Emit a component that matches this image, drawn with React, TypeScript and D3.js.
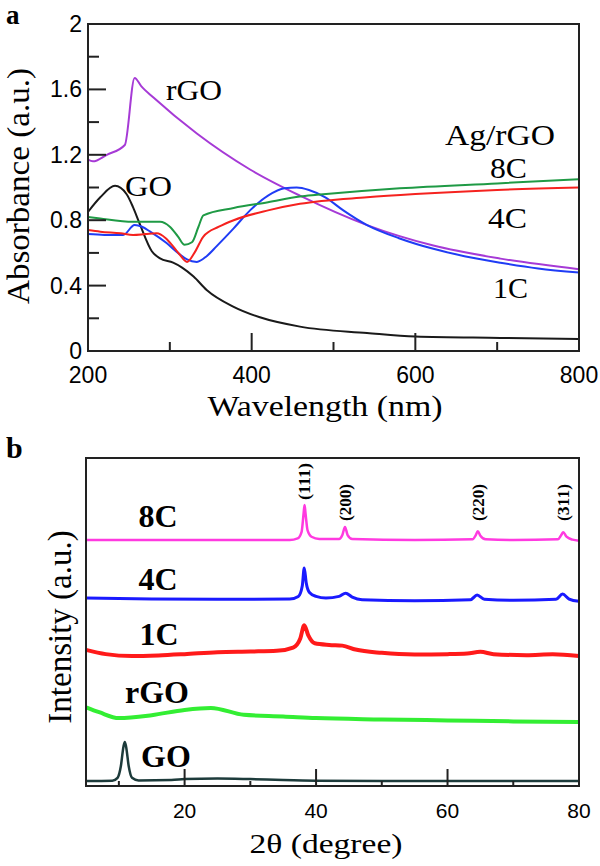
import React from 'react';
import * as d3 from 'd3';

// ---- panel a: UV-vis absorbance, [wavelength nm, absorbance a.u.]
const goUV: [number, number][] = [
  [200, 0.85], [215, 0.94], [233, 1.01], [247, 0.96], [255, 0.88], [263, 0.78],
  [278, 0.61], [288, 0.566], [304, 0.54], [315, 0.51], [329, 0.455], [345, 0.373],
  [378, 0.27], [410, 0.206], [459, 0.149], [541, 0.11], [600, 0.088], [704, 0.08], [800, 0.073],
];
const rgoUV: [number, number][] = [
  [200, 1.17], [206, 1.16], [223, 1.2], [245, 1.26], [257, 1.67], [265, 1.62],
  [280, 1.55], [333, 1.33], [398, 1.11], [459, 0.95], [541, 0.77], [622, 0.645],
  [704, 0.565], [800, 0.5],
];
const c1UV: [number, number][] = [
  [200, 0.715], [220, 0.71], [243, 0.71], [257, 0.77], [266, 0.76], [276, 0.73],
  [296, 0.66], [310, 0.6], [321, 0.56], [333, 0.545], [345, 0.58], [357, 0.64],
  [378, 0.75], [398, 0.86], [420, 0.95], [440, 0.995], [455, 1.0], [470, 0.985],
  [490, 0.94], [512, 0.86], [541, 0.77], [580, 0.69], [622, 0.625], [660, 0.58],
  [704, 0.54], [750, 0.505], [800, 0.48],
];
const c4UV: [number, number][] = [
  [200, 0.74], [215, 0.73], [240, 0.72], [255, 0.71], [270, 0.715], [284, 0.72],
  [295, 0.69], [304, 0.64], [312, 0.59], [321, 0.545], [330, 0.6], [341, 0.7],
  [360, 0.76], [378, 0.8], [420, 0.86], [459, 0.9], [541, 0.94], [600, 0.96],
  [700, 0.985], [800, 1.0],
];
const c8UV: [number, number][] = [
  [200, 0.82], [215, 0.81], [255, 0.79], [288, 0.79], [300, 0.76], [310, 0.7],
  [318, 0.65], [327, 0.665], [335, 0.76], [341, 0.83], [378, 0.875], [420, 0.91],
  [459, 0.945], [480, 0.955], [581, 0.995], [700, 1.025], [800, 1.05],
];

// ---- panel b: XRD, [2theta deg, intensity a.u. incl. stacking offset]
const goXRD: [number, number][] = [
  [5, 1.5], [9, 1.6], [9.8, 2.5], [10.3, 6], [10.7, 12], [10.9, 13.4], [11.1, 12],
  [11.5, 6], [12, 2.5], [13, 1.7], [18, 1.8], [20, 2.1], [25, 2.3], [30, 2.1],
  [35, 1.8], [40, 1.6], [50, 1.5], [60, 1.5], [80, 1.5],
];
const rgoXRD: [number, number][] = [
  [5, 24], [7, 22.5], [10, 20.7], [15, 21.6], [20, 23.2], [24, 23.8], [29, 21.7],
  [35, 21.2], [40, 20.7], [50, 20.3], [60, 20], [70, 19.7], [80, 19.5],
];
const c1XRD: [number, number][] = [
  [5, 41.5], [8, 40.2], [12, 39.6], [16, 39.8], [20, 40.2], [25, 40.8], [30, 41],
  [34, 41.2], [36.5, 42.2], [37.6, 45], [38.2, 49], [38.8, 46], [39.8, 43.5],
  [42, 43], [44, 42.8], [46, 41.6], [50, 40.6], [55, 40.1], [60, 40.2], [63, 40.4],
  [65, 40.9], [67, 40.2], [72, 39.9], [76, 40.2], [80, 39.6],
];
const c4XRD: [number, number][] = [
  [5, 57.3], [15, 57], [25, 56.9], [36, 57], [37.3, 57.8], [37.9, 61], [38.2, 66.5],
  [38.5, 62], [39, 59], [40, 57.8], [41.5, 57.3], [43.5, 57.8], [44.5, 58.8],
  [45.5, 57.6], [47, 56.8], [55, 56.5], [63.5, 56.8], [64.5, 58.2], [65.6, 56.9],
  [70, 56.6], [76.5, 56.9], [77.5, 58.5], [78.5, 57], [80, 56.3],
];
const c8XRD: [number, number][] = [
  [5, 75], [20, 75], [36, 75], [37.2, 75.5], [37.8, 77.5], [38.1, 83], [38.25, 85.7],
  [38.4, 83], [38.7, 78], [39.3, 76], [40.5, 75.3], [43.5, 75.3], [44.0, 76.5],
  [44.4, 79], [44.8, 76.5], [45.5, 75.3], [55, 75], [63.8, 75.2], [64.3, 76.5],
  [64.6, 77.7], [65, 76.3], [65.8, 75.2], [70, 75], [76.8, 75.2], [77.3, 76.5],
  [77.6, 77.4], [78.1, 76], [79, 75.1], [80, 74.8],
];
const peakNames = ['(111)', '(200)', '(220)', '(311)'];
const peakPos = [38.2, 44.4, 64.6, 77.6];

const serif = '"Liberation Serif", "Times New Roman", serif';
const sans = '"Liberation Sans", Arial, sans-serif';

export default function App() {
  // panel a scales
  const xa = d3.scaleLinear().domain([200, 800]).range([88, 579]);
  const ya = d3.scaleLinear().domain([0, 2]).range([351, 24]);
  const lineA = d3.line<[number, number]>().x(d => xa(d[0])).y(d => ya(d[1])).curve(d3.curveMonotoneX);

  // panel b scales
  const xb = d3.scaleLinear().domain([5, 80]).range([86, 579]);
  const yb = d3.scaleLinear().domain([0, 100]).range([786, 458]);
  const lineB = d3.line<[number, number]>().x(d => xb(d[0])).y(d => yb(d[1])).curve(d3.curveMonotoneX);

  const uvSeries = [
    { d: goUV, c: '#1a1a1a' },
    { d: rgoUV, c: '#a63ad6' },
    { d: c1UV, c: '#1f3cf5' },
    { d: c4UV, c: '#f5221f' },
    { d: c8UV, c: '#1f9a45' },
  ];
  const xrdSeries = [
    { d: goXRD, c: '#1d3b3b', w: 2.5 },
    { d: rgoXRD, c: '#33ee33', w: 4 },
    { d: c1XRD, c: '#ff1a1a', w: 4 },
    { d: c4XRD, c: '#1a1aff', w: 3 },
    { d: c8XRD, c: '#ff3ae0', w: 2.5 },
  ];

  const xaTicks = xa.ticks(6);
  const yaTicks = ya.ticks(10);
  const xbTicks = xb.ticks(8);

  return (
    <svg width={600} height={866} style={{ position: 'absolute', left: 0, top: 0, background: '#fff' }}>
      {/* ---------- panel a ---------- */}
      <text x={6} y={24} fontFamily={serif} fontWeight="bold" fontSize={27}>a</text>
      <g fill="none" strokeWidth={2}>
        {uvSeries.map((s, i) => <path key={i} d={lineA(s.d) || ''} stroke={s.c} />)}
      </g>
      <rect x={88} y={24} width={491} height={327} fill="none" stroke="#222" strokeWidth={2} />
      {xaTicks.map(t => {
        const major = t % 200 === 0;
        return <line key={t} x1={xa(t)} x2={xa(t)} y1={351} y2={351 - (major ? 18 : 9)} stroke="#222" strokeWidth={2} />;
      })}
      {yaTicks.map((t, i) => {
        const major = i % 2 === 0;
        return <line key={t} x1={88} x2={88 + (major ? 18 : 11)} y1={ya(t)} y2={ya(t)} stroke="#222" strokeWidth={2} />;
      })}
      {xaTicks.filter(t => t % 200 === 0).map(t => (
        <text key={t} x={xa(t)} y={383} textAnchor="middle" fontFamily={sans} fontSize={23}>{t}</text>
      ))}
      {yaTicks.filter((t, i) => i % 2 === 0).map(t => (
        <text key={t} x={82} y={ya(t) + 8} textAnchor="end" fontFamily={sans} fontSize={23}>{d3.format('~g')(t)}</text>
      ))}
      <text x={325} y={416} textAnchor="middle" fontFamily={serif} fontSize={30} textLength={235} lengthAdjust="spacingAndGlyphs">Wavelength (nm)</text>
      <text transform="translate(29,186) rotate(-90)" textAnchor="middle" fontFamily={serif} fontSize={31}
        textLength={236} lengthAdjust="spacingAndGlyphs">Absorbance (a.u.)</text>
      <g fontFamily={serif} fontSize={30}>
        <text x={166} y={100} textLength={56} lengthAdjust="spacingAndGlyphs">rGO</text>
        <text x={125} y={196} textLength={47} lengthAdjust="spacingAndGlyphs">GO</text>
        <text x={445} y={145} textLength={110} lengthAdjust="spacingAndGlyphs">Ag/rGO</text>
        <text x={490} y={178} textLength={37} lengthAdjust="spacingAndGlyphs">8C</text>
        <text x={488} y={228} textLength={39} lengthAdjust="spacingAndGlyphs">4C</text>
        <text x={493} y={298} textLength={35} lengthAdjust="spacingAndGlyphs">1C</text>
      </g>

      {/* ---------- panel b ---------- */}
      <text x={6} y={458} fontFamily={serif} fontWeight="bold" fontSize={30}>b</text>
      <g fill="none" strokeLinejoin="round">
        {xrdSeries.map((s, i) => <path key={i} d={lineB(s.d) || ''} stroke={s.c} strokeWidth={s.w} />)}
      </g>
      <rect x={86} y={458} width={493} height={328} fill="none" stroke="#222" strokeWidth={2} />
      {xbTicks.map(t => {
        const major = t % 20 === 0;
        return <line key={t} x1={xb(t)} x2={xb(t)} y1={786} y2={786 - (major ? 17 : 5)} stroke="#222" strokeWidth={2} />;
      })}
      {xbTicks.filter(t => t % 20 === 0).map(t => (
        <text key={t} x={xb(t)} y={818} textAnchor="middle" fontFamily={sans} fontSize={21}>{t}</text>
      ))}
      <text x={326} y={853} textAnchor="middle" fontFamily={serif} fontSize={27} textLength={153} lengthAdjust="spacingAndGlyphs">2θ (degree)</text>
      <text transform="translate(71,627) rotate(-90)" textAnchor="middle" fontFamily={serif} fontSize={33}>Intensity (a.u.)</text>
      <g fontFamily={serif} fontWeight="bold" fontSize={32} textAnchor="middle">
        <text x={158} y={527}>8C</text>
        <text x={158} y={590}>4C</text>
        <text x={159} y={645}>1C</text>
        <text x={157} y={703}>rGO</text>
        <text x={166} y={767}>GO</text>
      </g>
      <g fontFamily={serif} fontWeight="bold" fontSize={17}>
        {peakNames.map((n, i) => {
          const bottom = i === 0 ? 500 : 521;
          return (
            <text key={n} transform={`translate(${xb(peakPos[i]) + 6},${bottom}) rotate(-90)`}
              textLength={37} lengthAdjust="spacingAndGlyphs">{n}</text>
          );
        })}
      </g>
    </svg>
  );
}
